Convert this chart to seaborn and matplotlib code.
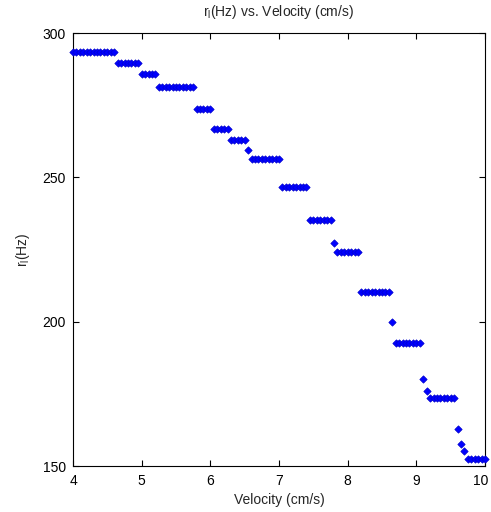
import matplotlib
matplotlib.use('Agg')
import matplotlib.pyplot as plt
import matplotlib.transforms as mtransforms
import seaborn as sns
import pandas as pd

# rate level (Hz) for each plateau, and the velocities (cm/s) sampled on it
rate_levels = [293.5, 289.5, 285.7, 281.2, 273.7, 266.6, 263.0, 259.4, 256.2,
               246.8, 235.2, 227.2, 224.3, 210.4, 200.0, 192.5, 180.0, 176.0,
               173.7, 162.7, 157.5, 155.3, 152.6]
level_velocities = [
    [4.00, 4.05, 4.10, 4.15, 4.20, 4.25, 4.30, 4.35, 4.40, 4.45, 4.50, 4.55, 4.60],
    [4.65, 4.70, 4.75, 4.80, 4.85, 4.90, 4.95],
    [5.00, 5.05, 5.10, 5.15, 5.20],
    [5.25, 5.30, 5.35, 5.40, 5.45, 5.50, 5.55, 5.60, 5.65, 5.70, 5.75],
    [5.80, 5.85, 5.90, 5.95, 6.00],
    [6.05, 6.10, 6.15, 6.20, 6.25],
    [6.30, 6.35, 6.40, 6.45, 6.50],
    [6.55],
    [6.60, 6.65, 6.70, 6.75, 6.80, 6.85, 6.90, 6.95, 7.00],
    [7.05, 7.10, 7.15, 7.20, 7.25, 7.30, 7.35, 7.40],
    [7.45, 7.50, 7.55, 7.60, 7.65, 7.70, 7.75],
    [7.80],
    [7.85, 7.90, 7.95, 8.00, 8.05, 8.10, 8.15],
    [8.20, 8.25, 8.30, 8.35, 8.40, 8.45, 8.50, 8.55, 8.60],
    [8.65],
    [8.70, 8.75, 8.80, 8.85, 8.90, 8.95, 9.00, 9.05],
    [9.10],
    [9.15],
    [9.20, 9.25, 9.30, 9.35, 9.40, 9.45, 9.50, 9.55],
    [9.60],
    [9.65],
    [9.70],
    [9.75, 9.80, 9.85, 9.90, 9.95, 10.00],
]

x_ticks = [4, 5, 6, 7, 8, 9, 10]
y_ticks = [150, 200, 250, 300]

rows = []
for level, vels in zip(rate_levels, level_velocities):
    for v in vels:
        rows.append({'velocity': v, 'rate': level})
df = pd.DataFrame(rows)

sns.set_style('white')
plt.rcParams['font.family'] = ['Liberation Sans', 'DejaVu Sans']
plt.rcParams['mathtext.default'] = 'regular'

fig = plt.figure(figsize=(4.91, 5.12), dpi=100)
ax = fig.add_axes([0.1487, 0.0898, 0.8391, 0.8457])

sns.scatterplot(data=df, x='velocity', y='rate', ax=ax, marker='D', s=14,
                color='#0000ff', edgecolor='#0000cc', linewidth=0.5,
                clip_on=False, zorder=3)

ax.set_xlim(4, 10)
ax.set_ylim(150, 300)
ax.set_xticks(x_ticks)
ax.set_yticks(y_ticks)
ax.tick_params(direction='in', length=4, width=0.8, colors='black',
               labelsize=10, top=True, right=True, bottom=True, left=True)
ax.tick_params(axis='x', pad=6)
ax.tick_params(axis='y', pad=5)
for side in ax.spines.values():
    side.set_color('black')
    side.set_linewidth(0.8)

# keep the "10" label inside the figure edge
last = ax.get_xticklabels()[-1]
last.set_transform(last.get_transform() +
                   mtransforms.ScaledTranslation(-4 / 100, 0, fig.dpi_scale_trans))

ax.set_xlabel('Velocity (cm/s)', fontsize=10, labelpad=3)
ax.set_ylabel('r$_{l}$(Hz)', fontsize=10, labelpad=8)
ax.set_title('r$_{l}$(Hz) vs. Velocity (cm/s)', fontsize=10, pad=12)

fig.savefig('out.png', dpi=100, facecolor='white')
